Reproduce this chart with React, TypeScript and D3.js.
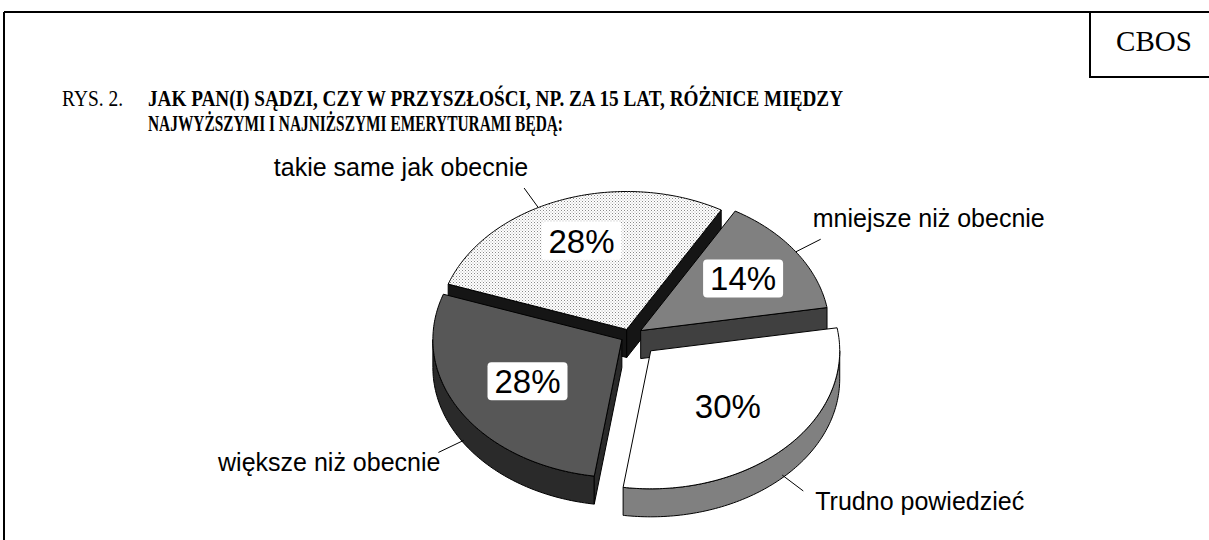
import * as d3 from "d3";

// slices in drawing order (back to front), clockwise from the top-left
const categories = [
  "takie same jak obecnie",
  "mniejsze niż obecnie",
  "Trudno powiedzieć",
  "większe niż obecnie",
];
const values = [28, 14, 30, 28];
const figureNo = "RYS. 2.";
const titleLines = [
  "JAK PAN(I) SĄDZI, CZY W PRZYSZŁOŚCI, NP. ZA 15 LAT, RÓŻNICE MIĘDZY",
  "NAJWYŻSZYMI I NAJNIŻSZYMI EMERYTURAMI BĘDĄ:",
];
const source = "CBOS";

const topFills = ["url(#dots)", "#808080", "#ffffff", "#575757"];
const sideFills = ["#151515", "#404040", "#808080", "#2a2a2a"];
const explode = [9.5, 13, 29, 9.5];
// small nudges (degrees) of where each leader line meets its slice
const leaderShift = [-7.5, 0, 1.5, -2];

const W = 1209;
const H = 540;
const cx = 630;
const cy = 336;
const rx = 189;
const ry = 138;
const depth = 28;
const deg = Math.PI / 180;

const sans = "'Liberation Sans', Arial, sans-serif";
const serif = "'Liberation Serif', 'Times New Roman', serif";

type P = [number, number];

const proj = (c: P, a: number, r: number, z = 0): P => [
  c[0] + r * rx * Math.sin(a),
  c[1] - r * ry * Math.cos(a) + z,
];

const samples = (a0: number, a1: number) => {
  const pts = d3.range(a0, a1, 1 * deg);
  pts.push(a1);
  return pts;
};

export default function App() {
  const pie = d3
    .pie<number>()
    .sort(null)
    .value((d) => d)
    .startAngle(-70.8 * deg)
    .endAngle(289.2 * deg);
  const arcs = pie(values);
  const line = d3.line<P>();

  const slices = arcs.map((arc, i) => {
    const a0 = arc.startAngle;
    const a1 = arc.endAngle;
    const mid = (a0 + a1) / 2;
    const c: P = [
      cx + explode[i] * Math.sin(mid),
      cy - explode[i] * Math.cos(mid) * (ry / rx),
    ];

    const top = line([c, ...samples(a0, a1).map((a) => proj(c, a, 1))]) + "Z";

    // outer wall: only the part facing the viewer
    const walls: string[] = [];
    for (const k of [-1, 0, 1]) {
      const lo = Math.max(a0, Math.PI / 2 + 2 * Math.PI * k);
      const hi = Math.min(a1, (3 * Math.PI) / 2 + 2 * Math.PI * k);
      if (hi > lo) {
        const s = samples(lo, hi);
        const upper = s.map((a) => proj(c, a, 1));
        const lower = s.slice().reverse().map((a) => proj(c, a, 1, depth));
        walls.push(line([...upper, ...lower]) + "Z");
      }
    }

    // radial faces
    const faces: string[] = [];
    const face = (a: number) =>
      line([c, proj(c, a, 1), proj(c, a, 1, depth), [c[0], c[1] + depth]]) + "Z";
    if (Math.sin(a0) < 0) faces.push(face(a0));
    if (Math.sin(a1) > 0) faces.push(face(a1));

    const la = mid + leaderShift[i] * deg;
    const front = Math.cos(la) < 0;
    const z = front ? depth * 0.9 : 0;
    const inner = proj(c, la, 1.0, z);
    const outer = proj(c, la, 1.16, z);
    const right = Math.sin(la) > 0;
    const tx = outer[0] + (right ? (front ? 12 : -8) : front ? 2 : 4);
    const ty = outer[1] + (front ? 19 : -12);
    const pct = proj(c, mid, 0.62 + 0.07 * Math.cos(mid));

    return { i, top, walls, faces, inner, outer, right, tx, ty, pct };
  });

  return (
    <svg
      width={W}
      height={H}
      style={{ position: "fixed", left: 0, top: 0, background: "#fff" }}
    >
      <defs>
        <pattern id="dots" width={3} height={3} patternUnits="userSpaceOnUse">
          <rect width={3} height={3} fill="#ffffff" />
          <rect x={0} y={0} width={1} height={1} fill="#8a8a8a" />
          <rect x={1.5} y={1.5} width={1} height={1} fill="#b0b0b0" />
        </pattern>
      </defs>

      {/* frame */}
      <line x1={4} y1={12} x2={W} y2={12} stroke="#000" strokeWidth={2} />
      <line x1={4} y1={12} x2={4} y2={H} stroke="#000" strokeWidth={2} />
      <rect x={1090} y={12} width={130} height={65} fill="#fff" stroke="#000" strokeWidth={2} />
      <text x={1154} y={51} textAnchor="middle" fontFamily={serif} fontSize={29}>
        {source}
      </text>

      {/* title */}
      <text x={62} y={106} fontFamily={serif} fontSize={23} textLength={61} lengthAdjust="spacingAndGlyphs">
        {figureNo}
      </text>
      {titleLines.map((t, k) => (
        <text
          key={k}
          x={148}
          y={106 + k * 25}
          fontFamily={serif}
          fontSize={23}
          fontWeight="bold"
          textLength={k === 0 ? 695 : 415}
          lengthAdjust="spacingAndGlyphs"
        >
          {t}
        </text>
      ))}

      {/* pie */}
      {slices.map((s) => (
        <g key={s.i}>
          {s.walls.map((d, k) => (
            <path key={"w" + k} d={d} fill={sideFills[s.i]} stroke="#000" strokeWidth={1} strokeLinejoin="round" />
          ))}
          {s.faces.map((d, k) => (
            <path key={"f" + k} d={d} fill={sideFills[s.i]} stroke="#000" strokeWidth={1} strokeLinejoin="round" />
          ))}
          <path d={s.top} fill={topFills[s.i]} stroke="#000" strokeWidth={1} strokeLinejoin="round" />
        </g>
      ))}

      {/* percent labels */}
      {slices.map((s) => (
        <g key={"p" + s.i} transform={`translate(${s.pct[0]},${s.pct[1]})`}>
          <rect x={-40} y={-19} width={80} height={38} rx={4} fill="#fff" />
          <text textAnchor="middle" dy="0.36em" fontFamily={sans} fontSize={33}>
            {values[s.i]}%
          </text>
        </g>
      ))}

      {/* category labels */}
      {slices.map((s) => (
        <g key={"l" + s.i}>
          <line x1={s.inner[0]} y1={s.inner[1]} x2={s.outer[0]} y2={s.outer[1]} stroke="#000" strokeWidth={1} />
          <text
            x={s.tx}
            y={s.ty}
            textAnchor={s.right ? "start" : "end"}
            fontFamily={sans}
            fontSize={25}
          >
            {categories[s.i]}
          </text>
        </g>
      ))}
    </svg>
  );
}
